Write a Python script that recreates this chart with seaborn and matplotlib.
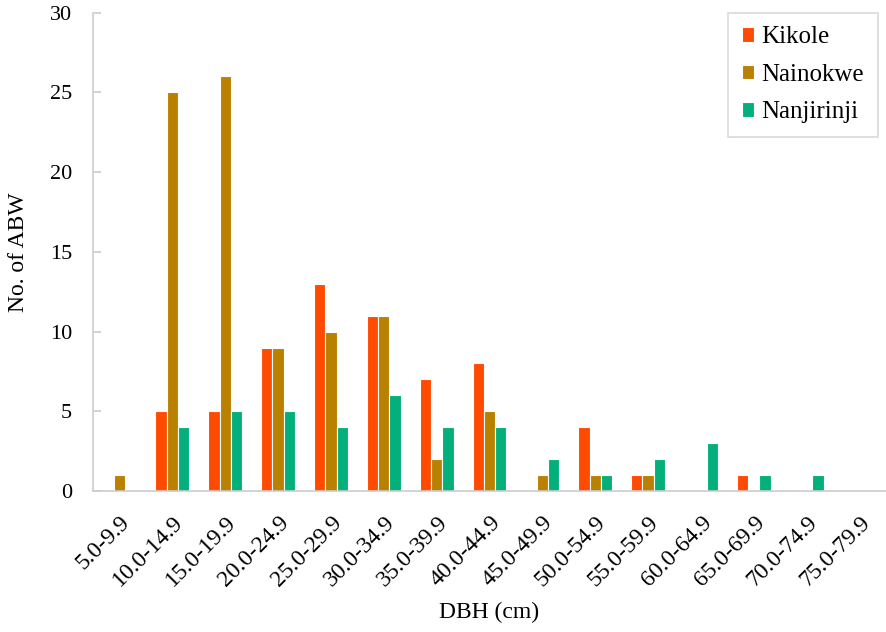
import pandas as pd
import matplotlib.pyplot as plt
import seaborn as sns

classes = ["5.0-9.9", "10.0-14.9", "15.0-19.9", "20.0-24.9", "25.0-29.9",
           "30.0-34.9", "35.0-39.9", "40.0-44.9", "45.0-49.9", "50.0-54.9",
           "55.0-59.9", "60.0-64.9", "65.0-69.9", "70.0-74.9", "75.0-79.9"]
kikole = [0, 5, 5, 9, 13, 11, 7, 8, 0, 4, 1, 0, 1, 0, 0]
nainokwe = [1, 25, 26, 9, 10, 11, 2, 5, 1, 1, 1, 0, 0, 0, 0]
nanjirinji = [0, 4, 5, 5, 4, 6, 4, 4, 2, 1, 2, 3, 1, 1, 0]

sites = ["Kikole", "Nainokwe", "Nanjirinji"]
colors = ["#FF4B00", "#BA8000", "#03AF7A"]

df = pd.DataFrame({"DBH": classes, "Kikole": kikole,
                   "Nainokwe": nainokwe, "Nanjirinji": nanjirinji})
long = df.melt(id_vars="DBH", var_name="Site", value_name="Count")

sns.set_style("white")
plt.rcParams["font.family"] = ["Liberation Serif", "DejaVu Serif"]
plt.rcParams["text.color"] = "black"
plt.rcParams["axes.labelcolor"] = "black"

fig = plt.figure(figsize=(8.86, 6.32), dpi=100)
ax = fig.add_axes([0.105, 0.223, 0.895, 0.757])
sns.barplot(data=long, x="DBH", y="Count", hue="Site", hue_order=sites,
            palette=colors, saturation=1, width=0.64, edgecolor="white",
            linewidth=0.8, ax=ax)

ax.set_ylim(0, 30)
ax.set_yticks(range(0, 31, 5))
ax.set_xlim(-0.5, len(classes) - 0.5)
ax.set_xlabel("DBH (cm)", fontsize=17, labelpad=8)
ax.set_ylabel("No. of ABW", fontsize=17, labelpad=15)
ax.tick_params(axis="y", labelsize=16, length=6, direction="in", left=True,
               color="#cccccc", width=1.2, labelcolor="black", pad=15)
ax.tick_params(axis="x", labelsize=17, length=0, labelcolor="black", pad=15)
plt.setp(ax.get_xticklabels(), rotation=45, ha="right", rotation_mode="anchor")

for s in ["top", "right"]:
    ax.spines[s].set_visible(False)
for s in ["left", "bottom"]:
    ax.spines[s].set_color("#cccccc")
    ax.spines[s].set_linewidth(1.2)

leg = ax.legend(loc="upper right", fontsize=18, frameon=True, fancybox=False,
                edgecolor="#d0d0d0", handlelength=0.5, handleheight=0.5,
                handletextpad=0.3, labelspacing=0.62, borderpad=0.55,
                borderaxespad=0.0, bbox_to_anchor=(0.99, 1.0))
leg.get_frame().set_linewidth(1.2)

plt.savefig("out.png", dpi=100)
plt.close()
